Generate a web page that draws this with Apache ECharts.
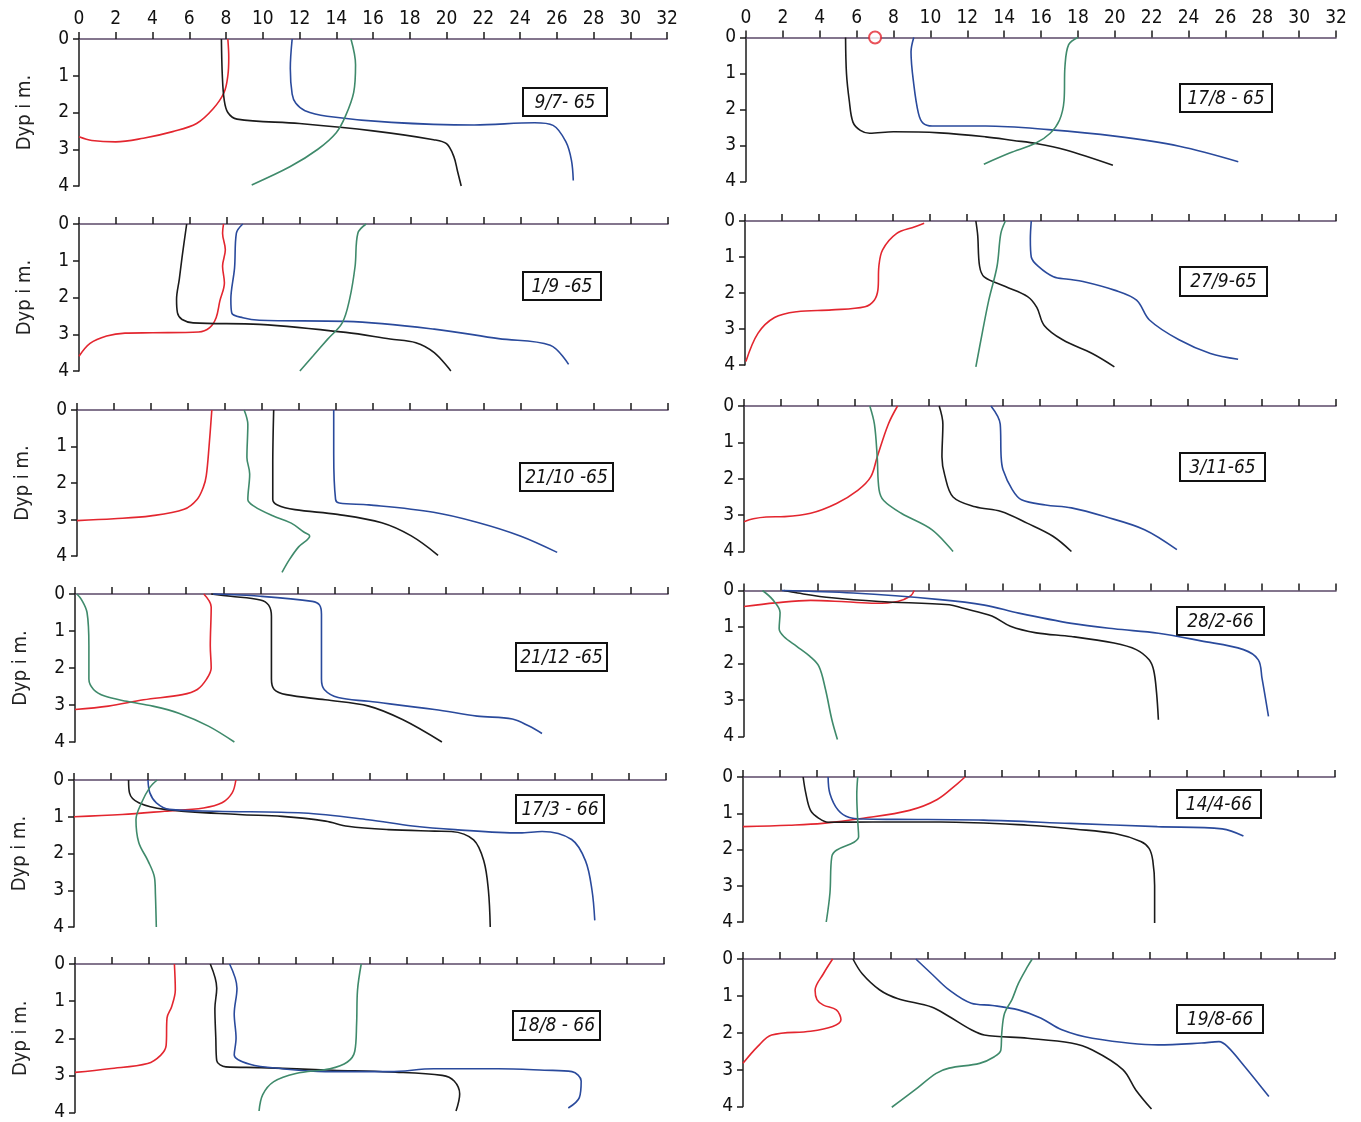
<!DOCTYPE html>
<html>
<head>
<meta charset="utf-8">
<script src="https://cdn.jsdelivr.net/npm/echarts@6/dist/echarts.min.js"></script>
<style>
html,body{margin:0;padding:0;background:#fff;}
#chart{width:1361px;height:1122px;}
</style>
</head>
<body>
<div id="chart"></div>
<script>
// ---------- DATA (x = value on 0-32 scale, y = depth in m) ----------
const dates = ['9/7- 65','17/8 - 65','1/9 -65','27/9-65','21/10 -65','3/11-65',
               '21/12 -65','28/2-66','17/3 - 66','14/4-66','18/8 - 66','19/8-66'];
const xTicks = [0,2,4,6,8,10,12,14,16,18,20,22,24,26,28,30,32];
const depthTicks = [0,1,2,3,4];

// 9/7-65
const red1   = [[8.1,0],[8.15,0.5],[8.1,1],[7.9,1.45],[7.3,1.9],[6.4,2.3],[5.1,2.52],[3.5,2.7],[2.0,2.8],[0.7,2.76],[0,2.66]];
const black1 = [[7.75,0],[7.8,1],[7.9,1.65],[8.1,2.0],[8.6,2.18],[12,2.3],[16,2.5],[19.3,2.74],[20,2.85],[20.4,3.2],[20.6,3.6],[20.8,4.0]];
const blue1  = [[11.6,0],[11.5,0.8],[11.6,1.5],[11.8,1.75],[12.3,1.95],[13.5,2.1],[17,2.27],[21.5,2.34],[24.8,2.28],[25.8,2.35],[26.5,2.8],[26.8,3.3],[26.9,3.85]];
const green1 = [[14.8,0],[15.05,0.7],[14.95,1.45],[14.5,2.1],[14.0,2.55],[13.0,3.0],[11.5,3.47],[9.4,3.97]];
// 17/8-65
const red2   = [];
const circle2 = [[7.0,0]];
const black2 = [[5.4,0],[5.45,1],[5.6,1.75],[5.8,2.35],[6.2,2.58],[6.7,2.66],[8,2.62],[10.5,2.65],[13,2.76],[14.5,2.86],[15.8,2.95],[17.3,3.12],[19.9,3.55]];
const blue2  = [[9.1,0],[8.95,0.4],[9.1,1.3],[9.35,2.1],[9.6,2.38],[10.1,2.46],[13,2.46],[16.4,2.56],[20,2.74],[23.5,3.02],[26.7,3.45]];
const green2 = [[18,0],[17.5,0.2],[17.3,0.8],[17.25,1.75],[17.0,2.3],[16.5,2.66],[15.7,2.94],[14.3,3.21],[12.9,3.52]];
// 1/9-65
const red3   = [[7.85,0],[7.8,0.25],[7.95,0.7],[7.8,1.15],[7.9,1.6],[7.65,2.1],[7.45,2.55],[7.1,2.82],[6.5,2.94],[4,2.96],[2.5,2.97],[1.5,3.05],[0.6,3.25],[0,3.6]];
const black3 = [[5.85,0],[5.6,0.9],[5.45,1.5],[5.3,2.05],[5.35,2.42],[5.6,2.6],[6.2,2.69],[9.8,2.73],[14.5,2.95],[16.9,3.13],[18.3,3.23],[19.3,3.5],[20.2,4.0]];
const blue3  = [[8.9,0],[8.55,0.25],[8.45,1.2],[8.25,2.05],[8.3,2.42],[8.9,2.55],[9.8,2.62],[14.5,2.65],[19.3,2.86],[22.8,3.12],[25.6,3.3],[26.6,3.82]];
const green3 = [[15.6,0],[15.15,0.25],[15.0,1.15],[14.7,2.05],[14.3,2.69],[13.5,3.14],[12.7,3.6],[12.0,4.0]];
// 27/9-65
const red4   = [[9.7,0.06],[9.2,0.16],[8.2,0.35],[7.45,0.8],[7.25,1.25],[7.2,1.9],[7.0,2.2],[6.5,2.38],[4.7,2.47],[2.8,2.52],[1.6,2.68],[0.7,3.12],[0.05,3.9]];
const black4 = [[12.5,0],[12.6,0.4],[12.7,1.25],[12.95,1.55],[14.1,1.82],[15.3,2.1],[15.8,2.4],[16.2,2.9],[17.2,3.3],[18.8,3.68],[20.0,4.05]];
const blue4  = [[15.5,0],[15.45,0.5],[15.5,1.0],[15.9,1.27],[16.7,1.55],[17.5,1.62],[18.3,1.68],[20,1.92],[21.2,2.2],[21.9,2.75],[23.5,3.3],[25.2,3.68],[26.7,3.84]];
const green4 = [[14.1,0],[13.85,0.35],[13.65,1.25],[13.2,2.2],[12.85,3.1],[12.5,4.05]];
// 21/10-65
const red5   = [[7.3,0],[7.15,1.0],[7.0,1.8],[6.85,2.1],[6.5,2.45],[5.8,2.72],[4.0,2.9],[2.0,2.98],[0,3.03]];
const black5 = [[10.65,0],[10.6,1.5],[10.6,2.45],[10.85,2.6],[11.8,2.73],[14.1,2.86],[16.5,3.09],[18.1,3.45],[19.55,3.98]];
const blue5  = [[13.9,0],[13.9,1.2],[14.0,2.45],[14.2,2.55],[15.8,2.6],[19.3,2.8],[21.7,3.08],[24,3.45],[26,3.9]];
const green5 = [[9.05,0],[9.25,0.4],[9.2,1.3],[9.35,1.75],[9.25,2.45],[9.6,2.64],[10.6,2.9],[11.6,3.1],[12.3,3.35],[12.6,3.45],[12.0,3.75],[11.5,4.1],[11.1,4.45]];
// 3/11-65
const red6   = [[8.3,0],[7.8,0.5],[7.2,1.4],[6.85,1.95],[6.15,2.32],[5.0,2.68],[3.6,2.95],[2.2,3.04],[1.2,3.05],[0.5,3.1],[0,3.18]];
const black6 = [[10.55,0],[10.75,0.5],[10.7,1.4],[10.85,1.9],[11.3,2.5],[12.5,2.77],[13.9,2.9],[15.3,3.22],[16.7,3.58],[17.7,4.0]];
const blue6  = [[13.35,0],[13.85,0.5],[13.9,1.4],[14.0,1.75],[14.5,2.3],[15.0,2.58],[16.3,2.72],[17.7,2.8],[19.5,3.04],[21.65,3.4],[23.4,3.95]];
const green6 = [[6.8,0],[7.05,0.5],[7.2,1.4],[7.3,2.3],[7.55,2.6],[8.5,2.95],[10.15,3.4],[11.3,4.0]];
// 21/12-65
const red7   = [[6.95,0],[7.35,0.35],[7.3,1.4],[7.35,2.0],[7.1,2.3],[6.6,2.58],[5.8,2.72],[3.7,2.86],[1.8,3.03],[0,3.12]];
const black7 = [[7.35,0],[8.4,0.06],[10.0,0.16],[10.45,0.3],[10.6,0.6],[10.6,1.5],[10.6,2.3],[10.75,2.58],[11.4,2.72],[13.5,2.86],[15.85,3.03],[17.7,3.4],[19.8,4.0]];
const blue7  = [[7.45,0],[10.0,0.06],[12.8,0.2],[13.2,0.3],[13.3,0.55],[13.3,1.5],[13.3,2.3],[13.45,2.58],[14.2,2.8],[15.85,2.9],[19.4,3.12],[21.7,3.3],[23.6,3.38],[24.5,3.57],[25.2,3.77]];
const green7 = [[0.1,0],[0.35,0.15],[0.65,0.5],[0.75,1.4],[0.75,2.3],[1.0,2.58],[1.6,2.76],[2.8,2.9],[4.2,3.03],[5.6,3.22],[7.2,3.57],[8.6,4.0]];
// 28/2-66
const red8   = [[9.2,0],[9.0,0.15],[8.3,0.3],[7.1,0.35],[5.5,0.31],[3.6,0.27],[1.7,0.34],[0,0.44]];
const black8 = [[2.15,0],[2.9,0.07],[4.75,0.2],[7.3,0.3],[11.1,0.39],[11.8,0.48],[13.4,0.7],[14.4,0.98],[15.8,1.16],[17.7,1.26],[20.0,1.44],[21.2,1.62],[21.9,1.9],[22.15,2.2],[22.3,2.8],[22.4,3.54]];
const blue8  = [[2.05,0],[5.9,0.07],[10.6,0.25],[13.0,0.4],[14.85,0.62],[17.7,0.9],[20,1.05],[22.4,1.17],[24.7,1.38],[27.0,1.62],[27.8,1.9],[28.0,2.4],[28.35,3.45]];
const green8 = [[1.0,0],[1.55,0.25],[1.95,0.6],[1.9,1.05],[2.15,1.26],[2.85,1.53],[3.55,1.8],[4.05,2.08],[4.4,2.7],[4.75,3.54],[5.05,4.08]];
// 17/3-66
const red9   = [[8.75,0],[8.55,0.35],[8.0,0.62],[7.0,0.76],[4.9,0.85],[2.6,0.94],[0,1.0]];
const black9 = [[2.95,0],[3.0,0.35],[3.5,0.62],[4.9,0.8],[8.9,0.94],[11.25,0.99],[13.6,1.12],[14.8,1.26],[17,1.35],[19.5,1.39],[20.4,1.4],[21.6,1.63],[22.15,2.2],[22.4,3.0],[22.5,4.0]];
const blue9  = [[4.0,0],[4.1,0.35],[4.45,0.62],[5.15,0.8],[7.7,0.85],[12.4,0.9],[15.9,1.08],[18.3,1.25],[20.6,1.35],[24.1,1.44],[25.3,1.4],[26.9,1.62],[27.65,2.2],[28.0,3.0],[28.15,3.82]];
const green9 = [[4.5,0],[4.1,0.2],[3.65,0.62],[3.35,1.08],[3.5,1.7],[4.0,2.2],[4.35,2.65],[4.4,3.1],[4.45,4.0]];
// 14/4-66
const red10   = [[12.0,0],[11.6,0.18],[10.5,0.62],[9.0,0.92],[6.5,1.14],[4.3,1.28],[2.5,1.33],[0,1.37]];
const black10 = [[3.25,0],[3.4,0.46],[3.65,0.92],[4.1,1.14],[4.6,1.25],[7,1.24],[10.7,1.24],[15.4,1.33],[18.0,1.44],[20.1,1.56],[21.5,1.78],[21.95,1.97],[22.15,2.3],[22.25,3.0],[22.25,4.03]];
const blue10  = [[4.6,0],[4.7,0.46],[5.15,0.92],[5.75,1.12],[6.5,1.16],[8.3,1.17],[13.0,1.19],[17.7,1.28],[22.4,1.37],[25.9,1.43],[27.05,1.63]];
const green10 = [[6.2,0],[6.15,0.5],[6.2,1.2],[6.25,1.65],[6.0,1.8],[5.05,2.02],[4.8,2.2],[4.7,3.2],[4.5,4.0]];
// 18/8-66
const red11   = [[5.4,0],[5.45,0.7],[5.25,1.15],[5.0,1.45],[4.95,2.2],[4.65,2.46],[3.95,2.68],[1.85,2.82],[0,2.92]];
const black11 = [[7.35,0],[7.7,0.65],[7.6,1.2],[7.65,2.0],[7.7,2.6],[8.2,2.77],[10.1,2.79],[14,2.86],[17.1,2.91],[19.95,3.0],[20.6,3.15],[20.9,3.5],[20.7,3.96]];
const blue11  = [[8.4,0],[8.8,0.65],[8.65,1.35],[8.75,2.0],[8.65,2.45],[9.5,2.7],[11.25,2.82],[13.6,2.9],[17.1,2.9],[19.5,2.82],[23,2.82],[25.5,2.86],[27.0,2.9],[27.5,3.15],[27.4,3.6],[26.8,3.88]];
const green11 = [[15.55,0],[15.35,0.7],[15.3,1.6],[15.2,2.35],[14.8,2.64],[13.85,2.82],[12,2.95],[10.8,3.17],[10.2,3.52],[10.0,3.96]];
// 19/8-66
const red12   = [[4.85,0],[4.35,0.4],[3.9,0.85],[4.0,1.1],[4.35,1.25],[5.05,1.38],[5.3,1.65],[4.85,1.83],[3.65,1.96],[1.55,2.06],[0.8,2.37],[0,2.83]];
const black12 = [[5.95,0],[6.45,0.4],[7.4,0.84],[8.35,1.07],[10.2,1.3],[11.15,1.56],[12.35,1.92],[13.05,2.06],[15.4,2.15],[17.75,2.28],[18.9,2.47],[20.55,3.0],[21.25,3.55],[22.1,4.07]];
const blue12  = [[9.35,0],[10.2,0.4],[11.15,0.84],[12.35,1.2],[13.5,1.26],[14.9,1.38],[16.1,1.6],[17.25,1.92],[18.9,2.15],[22.45,2.33],[24.8,2.28],[25.75,2.24],[26.2,2.37],[27.15,2.92],[28.45,3.73]];
const green12 = [[15.65,0],[15.4,0.2],[14.9,0.66],[14.55,1.1],[14.15,1.47],[14.0,2.0],[13.95,2.47],[13.6,2.65],[12.8,2.83],[11.15,2.96],[10.45,3.1],[9.3,3.55],[8.05,4.02]];

const panels = [
  [red1,black1,blue1,green1],[red2,black2,blue2,green2],[red3,black3,blue3,green3],
  [red4,black4,blue4,green4],[red5,black5,blue5,green5],[red6,black6,blue6,green6],
  [red7,black7,blue7,green7],[red8,black8,blue8,green8],[red9,black9,blue9,green9],
  [red10,black10,blue10,green10],[red11,black11,blue11,green11],[red12,black12,blue12,green12]
];

// ---------- LAYOUT / STYLE ----------
const FONT = "'DejaVu Sans Condensed','Liberation Sans Narrow','DejaVu Sans',sans-serif";
const COLORS = ['#e3262f','#1b1b1b','#2a4a9c','#3f8a6b'];
// [left, right, top(y=0), bottom(y=4)]
const geom = [
  [79,667,39,186],[746,1336,37.5,181.5],
  [79,668,224,371],[745,1336,221,365],
  [77,668,410,556],[744,1336,406,551.5],
  [75,668,594,742],[744,1336,590.5,736.5],
  [74,666,780,927],[743,1335,777,922],
  [75,664,964,1113],[743,1334.5,959,1106.5]
];
// date boxes [x, y, w, h]
const boxes = [
  [522,87,84,28],[1179,83,92,28],
  [522,271,78,28],[1179,266,87,29],
  [519,462,93,28],[1179,452,85,28],
  [515,642,91,28],[1176,606,87,28],
  [515,794,88,28],[1176,789,84,28],
  [512,1010,87,29],[1176,1004,86,28]
];

const chart = echarts.init(document.getElementById('chart'), null, {renderer:'canvas'});
const grid=[], xAxis=[], yAxis=[], series=[], graphic=[];

geom.forEach((g,i)=>{
  const isLeft = i%2===0, isTop = i<2;
  grid.push({left:g[0], top:g[2], width:g[1]-g[0], height:g[3]-g[2], containLabel:false});
  xAxis.push({
    type:'value', gridIndex:i, position:'top', min:xTicks[0], max:xTicks[xTicks.length-1], interval:2,
    axisLine:{show:true, onZero:false, lineStyle:{color:'#5b4868', width:1.6}},
    axisTick:{show:true, inside:false, length:7, lineStyle:{color:'#1b1b1b', width:1.5}},
    axisLabel:{show:isTop, margin:10, color:'#111', fontSize:19, fontFamily:FONT},
    splitLine:{show:false}
  });
  yAxis.push({
    type:'value', gridIndex:i, inverse:true, min:depthTicks[0], max:depthTicks[depthTicks.length-1], interval:1,
    name: isLeft ? 'Dyp i m.' : '', nameLocation:'middle', nameRotate:90, nameGap:44,
    nameTextStyle:{fontSize:20, fontFamily:FONT, color:'#222'},
    axisLine:{show:true, onZero:false, lineStyle:{color:'#1b1b1b', width:1.5}},
    axisTick:{show:true, inside:false, length:6, lineStyle:{color:'#1b1b1b', width:1.5}},
    axisLabel:{show:true, margin:10, color:'#111', fontSize:19, fontFamily:FONT},
    splitLine:{show:false}
  });
  panels[i].forEach((d,k)=>{
    if(!d.length) return;
    series.push({
      type:'line', xAxisIndex:i, yAxisIndex:i, data:d, smooth:0.35,
      symbol:'none', showSymbol:false, clip:false, animation:false,
      lineStyle:{color:COLORS[k], width:1.6}
    });
  });
  const b = boxes[i];
  graphic.push({
    type:'group', left:b[0], top:b[1],
    children:[
      {type:'rect', shape:{x:0,y:0,width:b[2],height:b[3]}, style:{fill:'#fff', stroke:'#111', lineWidth:2}},
      {type:'text', x:b[2]/2, y:b[3]/2+1, style:{text:dates[i], align:'center', verticalAlign:'middle',
        font:"italic 19px "+FONT, fill:'#111'}}
    ]
  });
});

series.push({
  type:'scatter', xAxisIndex:1, yAxisIndex:1, data:circle2, symbol:'emptyCircle', symbolSize:12,
  itemStyle:{color:'#e3262f', borderColor:'#e3262f', borderWidth:1.6}, clip:false, animation:false, z:5
});

chart.setOption({animation:false, backgroundColor:'#fff', grid, xAxis, yAxis, series, graphic});
</script>
</body>
</html>
